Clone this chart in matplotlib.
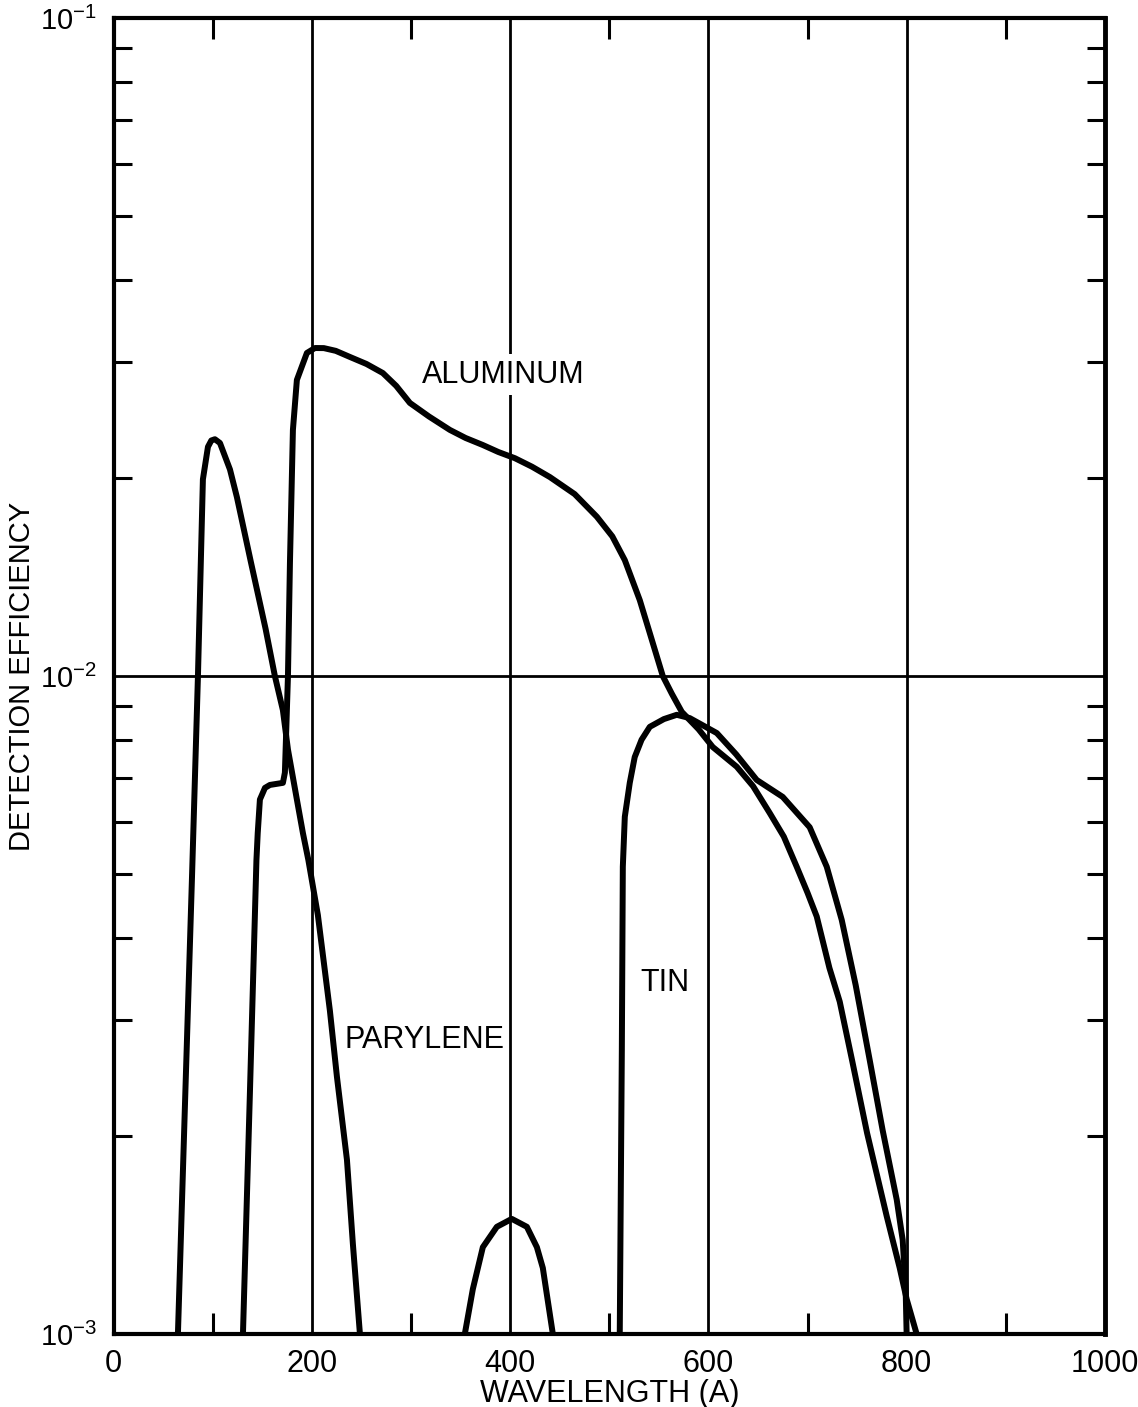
import matplotlib
matplotlib.use("Agg")
import matplotlib.pyplot as plt
from matplotlib.ticker import FixedLocator, NullFormatter

plt.rcParams['font.family'] = ['Liberation Sans', 'DejaVu Sans']
plt.rcParams['mathtext.fontset'] = 'custom'
plt.rcParams['mathtext.rm'] = 'Liberation Sans'
plt.rcParams['mathtext.it'] = 'Liberation Sans:italic'
plt.rcParams['mathtext.bf'] = 'Liberation Sans:bold'

# --- data (wavelength in A, detection efficiency) ---
parylene_x = [64.8, 71.9, 79.0, 85.0, 90.0, 95.1, 98.5, 102.1, 107.2, 117.3,
              124.3, 138.4, 153.2, 162.6, 170.7, 175.8, 184.8, 190.9, 196.4,
              206.0, 218.1, 225.2, 235.3, 241.3, 248.4]
parylene_y = [0.001, 0.00223, 0.00495, 0.0100, 0.0199, 0.0223, 0.0228, 0.0229,
              0.0226, 0.0206, 0.0187, 0.0149, 0.0118, 0.0100, 0.00887, 0.00773,
              0.00649, 0.00577, 0.00525, 0.00433, 0.00310, 0.00246, 0.00184,
              0.00137, 0.001]

# small second window around 400 A
band400_x = [354.2, 362.3, 372.4, 386.5, 401.6, 416.8, 426.9, 432.9, 443.0]
band400_y = [0.001, 0.00117, 0.001355, 0.001455, 0.001496, 0.001455, 0.001355,
             0.00126, 0.001]

aluminum_x = [130.4, 137.4, 144.0, 145.3, 147.5, 152.6, 157.6, 170.7, 172.7,
              175.8, 177.8, 180.8, 184.8, 194.9, 203.0, 212.0, 224.0, 238.3,
              255.0, 271.5, 285.0, 298.8, 318.0, 339.1, 355.0, 372.4, 388.0,
              404.7, 422.0, 440.0, 465.0, 487.4, 503.0, 515.6, 530.7, 540.8,
              553.9, 563.0, 573.1, 590.0, 604.3, 628.5, 645.0, 661.8, 676.0,
              689.0, 700.0, 709.2, 722.0, 732.4, 745.0, 760.0, 779.8, 792.9,
              799.9, 810.0]
aluminum_y = [0.001, 0.00232, 0.00525, 0.00577, 0.00649, 0.00676, 0.00683,
              0.00688, 0.00713, 0.0100, 0.01485, 0.02366, 0.02818, 0.03097,
              0.03151, 0.0315, 0.0312, 0.03054, 0.0298, 0.02887, 0.0276,
              0.02600, 0.0248, 0.02366, 0.0230, 0.02244, 0.0219, 0.02143,
              0.0208, 0.02006, 0.0189, 0.01746, 0.0163, 0.01500, 0.01304,
              0.01162, 0.0100, 0.0094, 0.00882, 0.0083, 0.00780, 0.00728,
              0.0068, 0.00619, 0.0057, 0.00513, 0.00468, 0.00431, 0.0036,
              0.0032, 0.0026, 0.00202, 0.00151, 0.00126, 0.00113, 0.001]

tin_x = [510.5, 512.6, 513.6, 515.6, 520.6, 525.6, 532.5, 540.8, 555.0, 568.0,
         581.1, 608.4, 628.0, 648.7, 674.9, 702.1, 719.3, 734.4, 748.5, 762.6,
         775.7, 789.9, 795.9, 798.9, 799.9]
tin_y = [0.001, 0.00270, 0.00513, 0.00611, 0.00688, 0.00753, 0.0080, 0.00837,
         0.0086, 0.00873, 0.00863, 0.00819, 0.0076, 0.00695, 0.00655, 0.00589,
         0.00513, 0.00426, 0.00339, 0.00261, 0.00204, 0.00160, 0.00139,
         0.00117, 0.001]

x_major = [0, 200, 400, 600, 800, 1000]
x_labels = ['0', '200', '400', '600', '800', '1000']
x_minor = [100, 300, 500, 700, 900]
y_major = [1e-3, 1e-2, 1e-1]
y_labels = ['$10^{-3}$', '$10^{-2}$', '$10^{-1}$']
y_minor = [2e-3, 3e-3, 4e-3, 5e-3, 6e-3, 7e-3, 8e-3, 9e-3,
           2e-2, 3e-2, 4e-2, 5e-2, 6e-2, 7e-2, 8e-2, 9e-2]
grid_x = [200, 400, 600, 800]
grid_y = [1e-2]

fig = plt.figure(figsize=(11.38, 14.07), dpi=100)
ax = fig.add_axes([0.0999, 0.0519, 0.8711, 0.9353])
ax.set_yscale('log')
ax.set_xlim(0, 1000)
ax.set_ylim(1e-3, 1e-1)

# grid lines of the paper
for gx in grid_x:
    ax.axvline(gx, color='black', lw=2.0, zorder=1)
for gy in grid_y:
    ax.axhline(gy, color='black', lw=2.0, zorder=1)

# curves
for xs, ys in [(parylene_x, parylene_y), (band400_x, band400_y),
               (aluminum_x, aluminum_y), (tin_x, tin_y)]:
    ax.plot(xs, ys, color='black', lw=4.3, solid_joinstyle='round',
            solid_capstyle='round', zorder=3)

# curve names (white box so the grid line breaks behind the text)
lbl_box = dict(facecolor='white', edgecolor='none', pad=4)
ax.text(393, 0.0287, 'ALUMINUM', fontsize=22, ha='center', va='center',
        bbox=lbl_box, zorder=4)
ax.text(556, 0.00342, 'TIN', fontsize=22, ha='center', va='center', zorder=4)
ax.text(314, 0.0028, 'PARYLENE', fontsize=22, ha='center', va='center',
        zorder=4)

# ticks
ax.set_xticks(x_major)
ax.set_xticklabels(x_labels, fontsize=22)
ax.xaxis.set_minor_locator(FixedLocator(x_minor))
ax.xaxis.set_minor_formatter(NullFormatter())
ax.tick_params(axis='x', which='major', length=0, pad=11)
ax.tick_params(axis='x', which='minor', direction='in', length=15, width=2.2,
               top=True, bottom=True)

ax.set_yticks(y_major)
ax.set_yticklabels(y_labels, fontsize=21)
ax.yaxis.set_minor_locator(FixedLocator(y_minor))
ax.yaxis.set_minor_formatter(NullFormatter())
ax.tick_params(axis='y', which='major', length=0, pad=12)
ax.tick_params(axis='y', which='minor', direction='in', length=13, width=2.2,
               left=True, right=True)

for s in ax.spines.values():
    s.set_linewidth(3)
    s.set_color('black')
ax.spines['right'].set_linewidth(3.5)

ax.set_xlabel('WAVELENGTH (A)', fontsize=22)
ax.xaxis.set_label_coords(0.5, -0.034)
ax.xaxis.label.set_va('top')
ax.set_ylabel('DETECTION EFFICIENCY', fontsize=21)
ax.yaxis.set_label_coords(-0.078, 0.5)

fig.savefig('out.png', dpi=100)
